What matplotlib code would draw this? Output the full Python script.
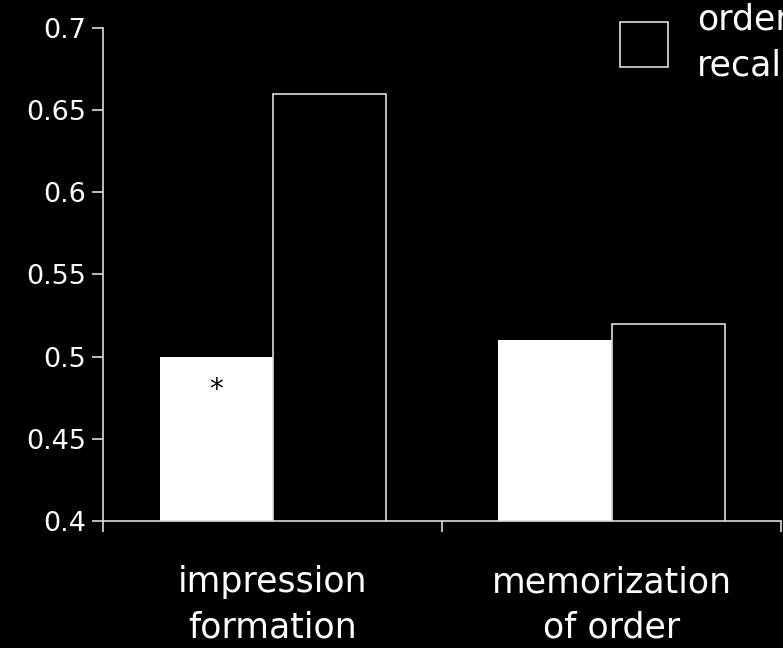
import numpy as np
import matplotlib
matplotlib.use("Agg")
import matplotlib.pyplot as plt
from matplotlib.patches import Patch

# data
categories = ["impression\nformation", "memorization\nof order"]
order_free = [0.50, 0.51]     # white bars
order_recall = [0.66, 0.52]   # black bars
star_value = 0.48

plt.rcParams["font.family"] = ["DejaVu Sans"]

fig = plt.figure(figsize=(7.83, 6.48), dpi=100, facecolor="black")
ax = fig.add_axes([103 / 783, 127 / 648, 678 / 783, 493 / 648])
ax.set_facecolor("black")

x = np.arange(len(categories)) + 0.5
w = 1 / 3
ax.bar(x - w / 2, order_free, w, color="white", edgecolor="white", linewidth=0)
ax.bar(x + w / 2, order_recall, w, color="black", edgecolor="#dddddd", linewidth=1.2)
ax.text(x[0] - w / 2, star_value, "*", color="black", ha="center", va="center", fontsize=20)

ax.set_ylim(0.4, 0.7)
ax.set_xlim(0, 2)
ax.set_yticks(np.arange(0.4, 0.701, 0.05))
ax.set_yticklabels(["0.4", "0.45", "0.5", "0.55", "0.6", "0.65", "0.7"])
ax.set_xticks([0, 1, 2])
ax.set_xticklabels([])
ax.set_xticks(x, minor=True)
ax.set_xticklabels(categories, minor=True)

for s in ["top", "right"]:
    ax.spines[s].set_visible(False)
for s in ["left", "bottom"]:
    ax.spines[s].set_color("#dddddd")
    ax.spines[s].set_linewidth(1.2)

ax.tick_params(axis="y", colors="#dddddd", labelcolor="white", labelsize=19.5, length=8, width=1.2, pad=4)
ax.tick_params(axis="x", which="major", colors="#dddddd", length=8, width=1.2)
ax.tick_params(axis="x", which="minor", length=0, labelcolor="white", labelsize=25, pad=32)
for t in ax.get_xticklabels(minor=True):
    t.set_linespacing(1.42)

handle = Patch(facecolor="black", edgecolor="#dddddd", linewidth=1.2)
leg = ax.legend([handle], ["order\nrecall"], loc="upper left", bbox_to_anchor=(617 / 783, 1 + 1 / 648),
                bbox_transform=fig.transFigure, frameon=False, fontsize=25, labelcolor="white",
                handlelength=1.38, handleheight=1.62, handletextpad=0.82, borderpad=0.1,
                borderaxespad=0)
leg.get_texts()[0].set_linespacing(1.45)

fig.savefig("out.png", dpi=100, facecolor="black")
